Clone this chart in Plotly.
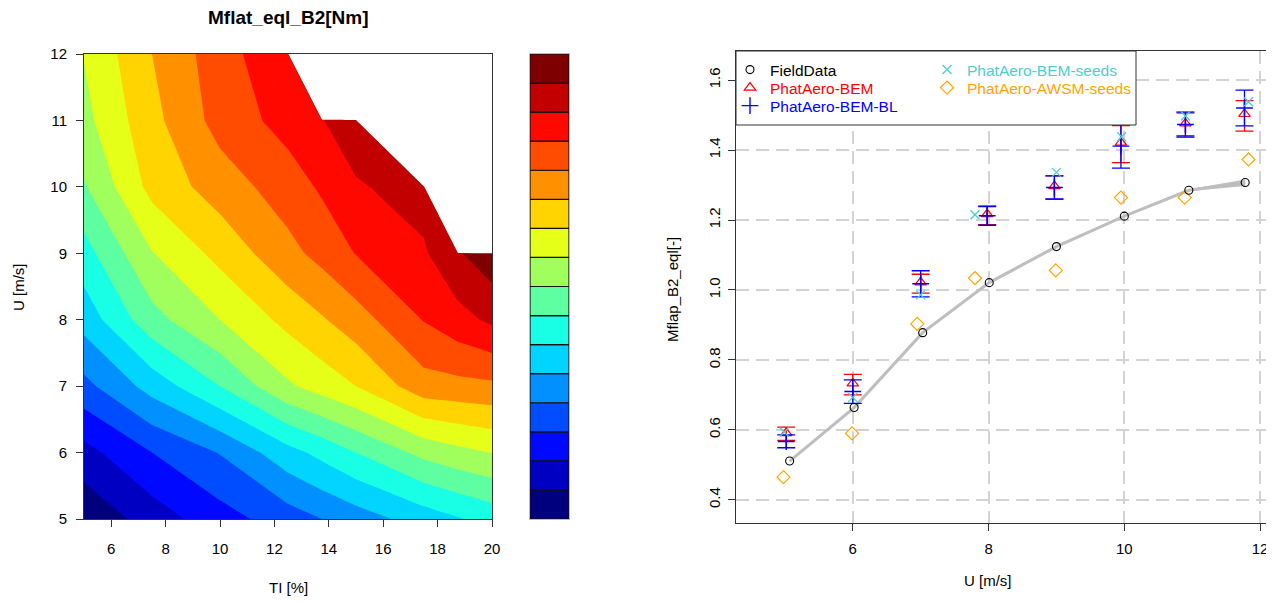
import plotly.graph_objects as go

W, H = 1274, 602
PAGE_OFFSET = 8  # default body margin of the html page

# ---------------- left panel data (contour of Mflat_eql_B2) ----------------
TI = [5, 7.5, 10, 12.5, 13.75, 15, 17.5, 18.75, 20]
U_GRID = [5, 6, 7, 8, 9, 10, 11, 12]
# rows: U = 5 .. 12 ; columns: TI ; None = no data (white)
MFLAT_U5 = [0.20, 1.47, 2.59, 3.52, 4.00, 4.50, 5.46, 5.92, 6.35]
MFLAT_U6 = [1.65, 3.00, 4.05, 5.65, 6.30, 7.00, 8.30, 8.70, 9.03]
MFLAT_U7 = [3.70, 5.40, 7.00, 8.85, 9.43, 10.00, 11.60, 11.70, 11.80]
MFLAT_U8 = [5.40, 7.65, 9.00, 10.30, 10.90, 11.55, 13.05, 13.65, 14.20]
MFLAT_U9 = [6.60, 8.95, 10.31, 11.70, 12.32, 13.04, 13.88, 14.90, 15.65]
MFLAT_U10 = [7.90, 10.32, 11.48, 12.50, 13.15, 13.90, 14.40, None, None]
MFLAT_U11 = [8.70, 10.70, 12.38, 13.38, 13.96, 14.54, None, None, None]
MFLAT_U12 = [9.05, 11.00, 12.56, 13.87, None, None, None, None, None]
LEVELS = list(range(0, 17))

# ---------------- right panel data ----------------
FIELD_U = [5.07, 6.02, 7.03, 8.01, 9.00, 10.00, 10.95, 11.78]
FIELD_M = [0.511, 0.664, 0.878, 1.021, 1.124, 1.211, 1.285, 1.307]
FIELD_LO = [0.509, 0.662, 0.876, 1.019, 1.122, 1.209, 1.282, 1.297]
FIELD_HI = [0.513, 0.666, 0.880, 1.023, 1.126, 1.213, 1.288, 1.316]

BEM_U = [5.02, 6.00, 7.00, 7.98, 8.97, 9.95, 10.90, 11.77]
BEM_M = [0.591, 0.733, 1.022, 1.217, 1.297, 1.421, 1.476, 1.503]
BEM_LO = [0.570, 0.700, 0.991, 1.187, 1.259, 1.364, 1.436, 1.454]
BEM_HI = [0.608, 0.759, 1.045, 1.240, 1.326, 1.470, 1.509, 1.541]

BL_U = [5.02, 6.00, 7.00, 7.98, 8.97, 9.95, 10.90, 11.77]
BL_M = [0.567, 0.710, 1.018, 1.212, 1.293, 1.411, 1.473, 1.520]
BL_LO = [0.549, 0.676, 0.980, 1.185, 1.260, 1.348, 1.440, 1.469]
BL_HI = [0.586, 0.743, 1.055, 1.238, 1.326, 1.474, 1.506, 1.571]

SEEDS_U = [4.99, 6.00, 7.00, 7.80, 9.00, 9.96, 10.90, 11.83]
BEM_SEEDS_M = [0.594, 0.693, 0.986, 1.215, 1.336, 1.438, 1.497, 1.538]

AWSM_U = [4.98, 5.99, 6.95, 7.80, 8.99, 9.95, 10.89, 11.83]
AWSM_SEEDS_M = [0.465, 0.590, 0.903, 1.034, 1.056, 1.264, 1.264, 1.373]

# ---------------- styles ----------------
JET16 = ["#00007F", "#0000C3", "#0008FF", "#004CFF", "#0090FF", "#00D4FF",
         "#19FFE5", "#5DFFA0", "#A1FF5D", "#E5FF19", "#FFD400", "#FF9000",
         "#FF4C00", "#FF0800", "#C30000", "#7F0000"]
FONT = "Liberation Sans, Arial, sans-serif"
C_RED, C_BLUE, C_CYAN, C_ORANGE = "#FF0000", "#0000FF", "#48D1CC", "#FFA500"


def px(x):
    return (x - PAGE_OFFSET) / W


def py(y):
    return 1 - (y - PAGE_OFFSET) / H


fig = go.Figure()

# ---- contour ----
rows = [MFLAT_U5, MFLAT_U6, MFLAT_U7, MFLAT_U8, MFLAT_U9, MFLAT_U10, MFLAT_U11, MFLAT_U12]
NA_FILL = 200.0  # value used to paint missing cells white (above top level)
z = [[NA_FILL if v is None else v for v in r] for r in rows]
bands = JET16 + ["#FFFFFF"]
nb = len(bands)
cscale = []
for i, c in enumerate(bands):
    lo = max(0.0, (i - 0.5) / (nb - 1))
    hi = min(1.0, (i + 0.5) / (nb - 1))
    cscale.append([lo, c])
    cscale.append([hi, c])

fig.add_trace(go.Contour(
    x=TI, y=U_GRID, z=z, xaxis="x", yaxis="y",
    autocontour=False,
    contours=dict(start=LEVELS[1], end=LEVELS[-1], size=1, coloring="fill", showlines=False),
    line=dict(width=0, smoothing=0),
    colorscale=cscale, showscale=False, hoverinfo="skip", showlegend=False,
))

# ---- colour key ----
fig.add_trace(go.Bar(
    x=[0] * (len(LEVELS) - 1), y=[LEVELS[i + 1] - LEVELS[i] for i in range(len(LEVELS) - 1)],
    base=LEVELS[:-1], width=1, xaxis="x2", yaxis="y2",
    marker=dict(color=JET16, line=dict(color="#111111", width=1.2)),
    showlegend=False, hoverinfo="skip",
))

# ---- right panel ----
fig.add_trace(go.Scatter(
    x=FIELD_U + FIELD_U[::-1], y=FIELD_HI + FIELD_LO[::-1], fill="toself",
    fillcolor="#BEBEBE", line=dict(width=0), mode="lines",
    xaxis="x3", yaxis="y3", showlegend=False, hoverinfo="skip"))
fig.add_trace(go.Scatter(
    x=FIELD_U, y=FIELD_M, mode="lines", line=dict(color="#BEBEBE", width=3),
    xaxis="x3", yaxis="y3", showlegend=False, hoverinfo="skip"))


def err(m, lo, hi, color):
    return dict(type="data", symmetric=False,
                array=[h - v for v, h in zip(m, hi)],
                arrayminus=[v - l for v, l in zip(m, lo)],
                color=color, thickness=1.3, width=9)


fig.add_trace(go.Scatter(
    x=BEM_U, y=BEM_M, mode="markers", name='<span style="color:#FF0000">PhatAero-BEM</span>',
    marker=dict(symbol="triangle-up-open", size=10, color=C_RED, line=dict(width=1.2, color=C_RED)),
    error_y=err(BEM_M, BEM_LO, BEM_HI, C_RED),
    xaxis="x3", yaxis="y3", legend="legend2"))
fig.add_trace(go.Scatter(
    x=BL_U, y=BL_M, mode="markers", name='<span style="color:#0000FF">PhatAero-BEM-BL</span>',
    marker=dict(symbol="cross-thin-open", size=12, color=C_BLUE, line=dict(width=1.4, color=C_BLUE)),
    error_y=err(BL_M, BL_LO, BL_HI, C_BLUE),
    xaxis="x3", yaxis="y3", legend="legend3"))
fig.add_trace(go.Scatter(
    x=SEEDS_U, y=BEM_SEEDS_M, mode="markers", name='<span style="color:#48D1CC">PhatAero-BEM-seeds</span>',
    marker=dict(symbol="x-thin-open", size=9, color=C_CYAN, line=dict(width=1.3, color=C_CYAN)),
    xaxis="x3", yaxis="y3", legend="legend4"))
fig.add_trace(go.Scatter(
    x=AWSM_U, y=AWSM_SEEDS_M, mode="markers", name='<span style="color:#FFA500">PhatAero-AWSM-seeds</span>',
    marker=dict(symbol="diamond-open", size=10, color=C_ORANGE, line=dict(width=1.2, color=C_ORANGE)),
    xaxis="x3", yaxis="y3", legend="legend5"))
fig.add_trace(go.Scatter(
    x=FIELD_U, y=FIELD_M, mode="markers", name="FieldData",
    marker=dict(symbol="circle-open", size=8, color="#000000", line=dict(width=1.1, color="#000000")),
    xaxis="x3", yaxis="y3", legend="legend"))

# ---------------- layout ----------------
axfont = dict(family=FONT, size=15, color="#000000")
L_X0, L_X1, L_Y0, L_Y1 = 84, 492, 54, 519
R_X0, R_X1, R_Y0, R_Y1 = 736, 1273, 51, 523


def leg(xp, yp):
    return dict(x=px(xp), y=py(yp), xanchor="left", yanchor="middle",
                bgcolor="rgba(0,0,0,0)", borderwidth=0, itemwidth=30,
                font=dict(family=FONT, size=15.5, color="#000"))


def ann(text, xp, yp, size=15, angle=0, bold=False):
    return dict(text=f"<b>{text}</b>" if bold else text, x=px(xp), y=py(yp),
                xref="paper", yref="paper", xanchor="center", yanchor="middle",
                showarrow=False, textangle=angle,
                font=dict(family=FONT, size=size, color="#000"))


common_axis = dict(ticks="outside", ticklen=7, tickcolor="#333", showline=True,
                   linecolor="#333", linewidth=1, mirror=True, zeroline=False,
                   tickfont=axfont)

fig.update_layout(
    width=W, height=H,
    margin=dict(l=0, r=0, t=0, b=0, pad=0, autoexpand=False),
    paper_bgcolor="white", plot_bgcolor="white", font=dict(family=FONT, size=15),
    barmode="overlay",
    xaxis=dict(domain=[px(L_X0), px(L_X1)], range=[5, 20], anchor="y",
               tickvals=[6, 8, 10, 12, 14, 16, 18, 20], showgrid=False,
               ticklabelstandoff=9, **common_axis),
    yaxis=dict(domain=[py(L_Y1), py(L_Y0)], range=[5, 12], anchor="x",
               tickvals=[5, 6, 7, 8, 9, 10, 11, 12], showgrid=False,
               ticklabelstandoff=6, **common_axis),
    xaxis2=dict(domain=[px(530), px(569)], range=[-0.5, 0.5], anchor="y2",
                showticklabels=False, ticks="", showgrid=False, zeroline=False,
                showline=True, linecolor="#BBBBBB", mirror=True),
    yaxis2=dict(domain=[py(L_Y1), py(L_Y0)], range=[LEVELS[0], LEVELS[-1]], anchor="x2",
                showticklabels=False, ticks="", showgrid=False, zeroline=False,
                showline=True, linecolor="#BBBBBB", mirror=True),
    xaxis3=dict(domain=[px(R_X0), px(R_X1)], range=[4.28, 12.19], anchor="y3",
                tickvals=[6, 8, 10, 12],
                showgrid=True, gridcolor="#D3D3D3", gridwidth=2, griddash="13px,7px",
                ticklabelstandoff=5, **common_axis),
    yaxis3=dict(domain=[py(R_Y1), py(R_Y0)], range=[0.334, 1.683], anchor="x3",
                tickvals=[0.4, 0.6, 0.8, 1.0, 1.2, 1.4, 1.6],
                ticktext=["0.4", "0.6", "0.8", "1.0", "1.2", "1.4", "1.6"],
                tickangle=-90,
                showgrid=True, gridcolor="#D3D3D3", gridwidth=2, griddash="13px,7px",
                ticklabelstandoff=2, **common_axis),
    legend=leg(730, 70),
    legend2=leg(730, 88),
    legend3=leg(730, 106),
    legend4=leg(927, 70),
    legend5=leg(927, 88),
    shapes=[dict(type="rect", xref="paper", yref="paper",
                 x0=px(R_X0), x1=px(1136), y0=py(125), y1=py(R_Y0),
                 fillcolor="white", line=dict(color="#333", width=1), layer="above")],
    annotations=[
        ann("Mflat_eql_B2[Nm]", 288, 17, size=19, bold=True),
        ann("TI [%]", 288, 587),
        ann("U [m/s]", 18, 287, angle=-90),
        ann("U [m/s]", 988, 580),
        ann("Mflap_B2_eql[-]", 672, 290, angle=-90),
    ],
)

fig.write_html("out.html")
